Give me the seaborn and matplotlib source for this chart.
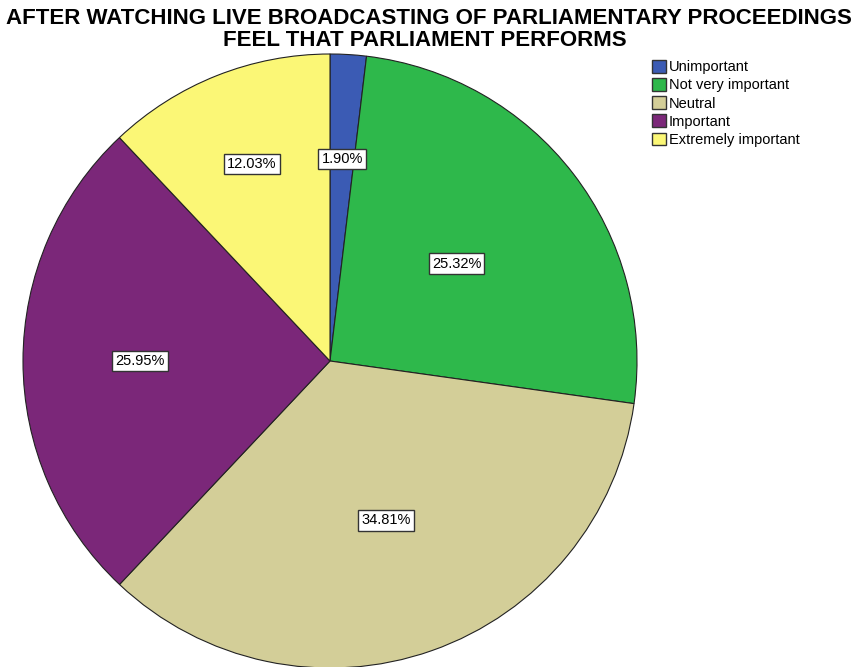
import matplotlib
matplotlib.use("Agg")
import matplotlib.pyplot as plt
import matplotlib.patches as mpatches
import numpy as np
import seaborn as sns

# Survey responses (percent of respondents)
categories = ["Unimportant", "Not very important", "Neutral", "Important", "Extremely important"]
percentages = [1.90, 25.32, 34.81, 25.95, 12.03]
slice_colors = ["#3B5BB4", "#2EB84B", "#D3CE98", "#7B2779", "#FBF776"]
# radial position of each percentage label, as a fraction of the radius
label_radius = [0.66, 0.52, 0.55, 0.62, 0.69]

title_lines = ["AFTER WATCHING LIVE BROADCASTING OF PARLIAMENTARY PROCEEDINGS",
               "FEEL THAT PARLIAMENT PERFORMS"]

sns.set_theme(style="white")
plt.rcParams["font.family"] = ["Liberation Sans", "DejaVu Sans"]
plt.rcParams["text.color"] = "black"

W, H = 858, 667
fig = plt.figure(figsize=(W / 100, H / 100), dpi=100)
cx, cy, r = 330, 361, 307
ax = fig.add_axes([(cx - r) / W, (H - cy - r) / H, 2 * r / W, 2 * r / H])

wedges, _ = ax.pie(percentages, colors=slice_colors, startangle=90, counterclock=False,
                   radius=1.0, wedgeprops=dict(edgecolor="#222222", linewidth=0.8))
ax.set_xlim(-1, 1)
ax.set_ylim(-1, 1)
ax.set_aspect("equal")
ax.axis("off")

for w, pct, rr in zip(wedges, percentages, label_radius):
    mid = np.deg2rad((w.theta1 + w.theta2) / 2)
    ax.text(rr * np.cos(mid), rr * np.sin(mid), f"{pct:.2f}%", ha="center", va="center",
            fontsize=10.5, color="black",
            bbox=dict(boxstyle="square,pad=0.22", facecolor="white", edgecolor="#333333", linewidth=1.0))

fig.text(429 / W, 1 - 18 / H, title_lines[0], ha="center", va="center", fontsize=16,
         fontweight="bold", color="black")
fig.text(425 / W, 1 - 40 / H, title_lines[1], ha="center", va="center", fontsize=16,
         fontweight="bold", color="black")

handles = [mpatches.Patch(facecolor=c, edgecolor="#333333", linewidth=1.0, label=l)
           for c, l in zip(slice_colors, categories)]
fig.legend(handles=handles, loc="upper left", bbox_to_anchor=(652 / W, 1 - 60 / H),
           frameon=False, fontsize=10.5, handlelength=0.96, handleheight=0.96,
           handletextpad=0.2, labelspacing=0.26, borderpad=0, borderaxespad=0)

fig.savefig("out.png", dpi=100)
